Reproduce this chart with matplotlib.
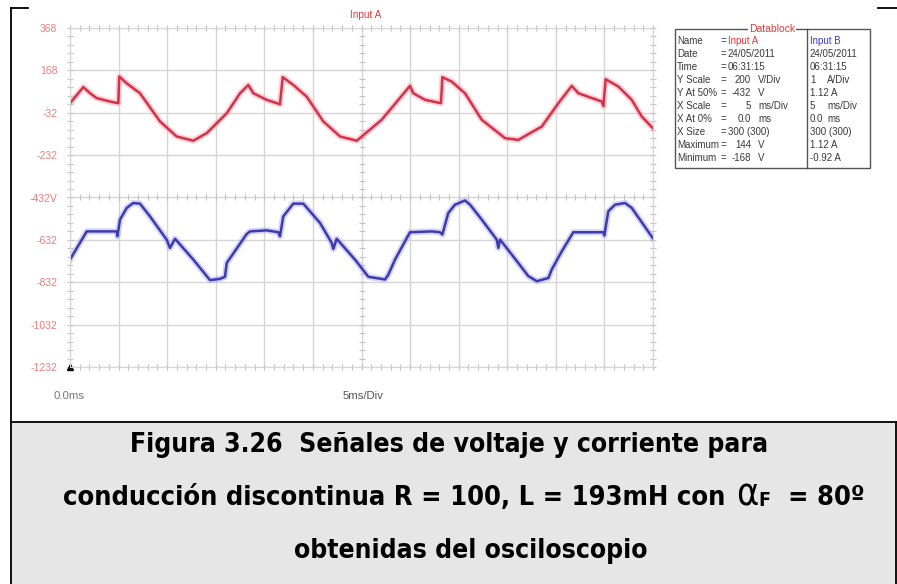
import numpy as np
import matplotlib.pyplot as plt
from matplotlib.lines import Line2D
from matplotlib.patches import Rectangle

W, H = 897, 584

# channel A (voltage, V) and channel B (display units of the same grid)
t_a = [0, 1.37, 2.06, 2.75, 4.12, 4.97, 5.07, 5.84, 7.2, 9.26, 10.98, 12.69, 14.07,
       16.13, 17.5, 18.35, 18.87, 20.24, 21.61, 21.89, 22.98, 24.36, 26.07, 27.79,
       29.51, 32.08, 34.99, 35.33, 36.54, 38.18, 38.32, 39.28, 40.65, 42.37, 44.77,
       46.14, 48.55, 50.26, 51.64, 52.32, 54.72, 54.89, 55.13, 56.43, 57.81, 58.84, 59.97]
v_a = [13, 89, 60, 37, 21, 13, 139, 107, 60, -73, -144, -164, -128,
       -34, 60, 99, 60, 29, 8, 136, 99, 44, -73, -144,
       -164, -65, 95, 60, 29, 13, 136, 115, 60, -65, -152,
       -160, -97, 13, 95, 60, 21, 0, 126, 92, 29, -50, -104]

t_b = [0, 1.72, 4.81, 4.87, 5.15, 5.84, 6.51, 7.2, 8.23, 9.95,
       10.29, 10.81, 12.69, 14.41, 15.44, 15.95, 16.13, 18.19, 18.53, 20.24,
       21.44, 21.61, 21.95, 22.98, 24.01, 25.73, 26.93, 27.1, 27.45, 29.33,
       30.7, 32.42, 32.76, 33.45, 34.99, 37.23, 38.08, 38.32, 38.93, 39.62,
       40.65, 41.17, 42.37, 43.92, 44.08, 44.26, 45.46, 47.17, 48.04, 49.23,
       49.58, 50.61, 51.8, 54.89, 54.99, 55.4, 56.09, 57.12, 57.81, 59.97]
v_b = [-725, -592, -592, -615, -536, -481, -458, -461, -521, -631,
       -670, -627, -725, -822, -816, -806, -741, -604, -592, -587,
       -596, -615, -521, -461, -461, -552, -646, -675, -627, -725,
       -806, -819, -796, -725, -596, -592, -596, -607, -505, -466,
       -446, -466, -536, -631, -670, -631, -701, -803, -827, -812,
       -772, -686, -596, -596, -611, -497, -466, -458, -481, -623]

y_ticks = [368, 168, -32, -232, -432, -632, -832, -1032, -1232]
y_labels = ['368', '168', '-32', '-232', '-432V', '-632', '-832', '-1032', '-1232']

db_rows = ['Name', 'Date', 'Time', 'Y Scale', 'Y At 50%', 'X Scale',
           'X At 0%', 'X Size', 'Maximum', 'Minimum']
db_a = ['Input A', '24/05/2011', '06:31:15', '200', '-432', '5', '0.0',
        '300 (300)', '144', '-168']
db_a_unit = ['', '', '', 'V/Div', 'V', 'ms/Div', 'ms', '', 'V', 'V']
db_b = ['Input B', '24/05/2011', '06:31:15', '1', '1.12 A', '5', '0.0',
        '300 (300)', '1.12 A', '-0.92 A']
db_b_unit = ['', '', '', 'A/Div', '', 'ms/Div', 'ms', '', '', '']


def fx(x):
    return x / W


def fy(y):
    return 1 - y / H


fig = plt.figure(figsize=(W / 100, H / 100), dpi=100)
fig.patch.set_facecolor('white')

# scope screen
ax = fig.add_axes([fx(70), fy(367), fx(653) - fx(70), fy(28) - fy(367)])
ax.set_xlim(0, 60)
ax.set_ylim(-1232, 368)
ax.set_xticks(np.arange(0, 61, 5))
ax.set_yticks(y_ticks)
ax.grid(True, color='#d6d6d6', lw=1.0)
ax.set_axisbelow(True)
for s in ax.spines.values():
    s.set_color('#d6d6d6')
ax.tick_params(length=0, labelbottom=False)
ax.set_yticklabels(y_labels, fontsize=7.5, color='#e5817c', family='Liberation Sans')
ax.tick_params(axis='y', pad=9)

# small division marks on the centre lines and the border
minor_t = np.arange(0, 60.01, 1.0)
minor_v = np.arange(-1232, 368.1, 40)
for yy in (368, -432, -1232):
    ax.plot(minor_t, np.full(minor_t.size, yy), ls='none', marker='|', ms=4,
            color='#c4c4c4', mew=0.8, clip_on=False)
for xx in (0, 30, 60):
    ax.plot(np.full(minor_v.size, xx), minor_v, ls='none', marker='_', ms=4,
            color='#c4c4c4', mew=0.8, clip_on=False)

ax.plot(t_a, v_a, color='#ff9aa8', lw=4.5, alpha=0.45, solid_joinstyle='round')
ax.plot(t_a, v_a, color='#d3324a', lw=1.8)
ax.plot(t_b, v_b, color='#9fa2ee', lw=4.5, alpha=0.45, solid_joinstyle='round')
ax.plot(t_b, v_b, color='#3d3ab0', lw=1.8)

ax.plot([0], [-1232], marker='^', ms=4, color='black', clip_on=False)

fig.text(fx(350), fy(15), 'Input A', color='#e03a3a', fontsize=7.2,
         family='Liberation Sans', va='center')
fig.text(fx(53), fy(396), '0.0ms', color='#777777', fontsize=8.2,
         family='Liberation Sans', va='center')
fig.text(fx(343), fy(396), '5ms/Div', color='#555555', fontsize=8.2,
         family='Liberation Sans', va='center')

# datablock
fig.add_artist(Rectangle((fx(675), fy(168)), fx(870) - fx(675), fy(29) - fy(168),
                         transform=fig.transFigure, fill=False, ec='#555555', lw=1))
fig.add_artist(Line2D([fx(807), fx(807)], [fy(29), fy(168)], color='#555555', lw=1))
fig.text(fx(772), fy(29), 'Datablock', color='#e03a3a', fontsize=7.5,
         family='Liberation Sans', ha='center', va='center',
         bbox=dict(facecolor='white', edgecolor='none', pad=0.5))
dtxt = dict(fontsize=7.0, family='Liberation Sans', color='#3a3a3a', va='center')
numeric = {3, 4, 5, 6, 8, 9}
for i, lab in enumerate(db_rows):
    y = fy(41 + i * 13.0)
    fig.text(fx(677), y, lab, **dtxt)
    fig.text(fx(721), y, '=', **dtxt)
    ca = '#e03a3a' if i == 0 else '#3a3a3a'
    if i in numeric:
        fig.text(fx(751), y, db_a[i], ha='right', **{**dtxt, 'color': ca})
        fig.text(fx(758), y, db_a_unit[i], **dtxt)
    else:
        fig.text(fx(728), y, db_a[i], **{**dtxt, 'color': ca})
    cb = '#3a3ad0' if i == 0 else '#3a3a3a'
    fig.text(fx(810), y, db_b[i], **{**dtxt, 'color': cb})
    if db_b_unit[i]:
        fig.text(fx(827), y, db_b_unit[i], **dtxt)

# page frame and caption box
frame = dict(color='black', lw=1.3)
fig.add_artist(Line2D([fx(11), fx(11)], [fy(8), 0], **frame))
fig.add_artist(Line2D([fx(11), fx(28)], [fy(8), fy(8)], **frame))
fig.add_artist(Line2D([fx(878), fx(897)], [fy(8), fy(8)], **frame))
fig.add_artist(Rectangle((fx(11), 0), fx(896) - fx(11), fy(422),
                         transform=fig.transFigure, fc='#e6e6e6', ec='none'))
fig.add_artist(Line2D([fx(11), fx(896)], [fy(422), fy(422)], **frame))
fig.add_artist(Line2D([fx(896), fx(896)], [fy(422), 0], **frame))

cap = dict(fontsize=19, fontweight='bold', fontstretch='condensed',
           family=['DejaVu Sans'], color='black', va='center')
fig.text(fx(449), fy(445), 'Figura 3.26  Señales de voltaje y corriente para', ha='center', **cap)
fig.text(fx(471), fy(551), 'obtenidas del osciloscopio', ha='center', **cap)

# second line is built in pieces so the alpha can be larger with a small F
fig.canvas.draw()
r = fig.canvas.get_renderer()
t1 = fig.text(fx(63), fy(498), 'conducción discontinua R = 100, L = 193mH con',
              **{**cap, 'fontsize': 19.5})
x = t1.get_window_extent(r).x1 + 11
t2 = fig.text(x / W, fy(496), 'α', **{**cap, 'fontsize': 27, 'fontweight': 'normal'})
x = t2.get_window_extent(r).x1
t3 = fig.text(x / W, fy(501), 'F', **{**cap, 'fontsize': 14})
x = t3.get_window_extent(r).x1
fig.text(x / W, fy(498), '  = 80º', **{**cap, 'fontsize': 19.5})

fig.savefig('out.png', dpi=100)
